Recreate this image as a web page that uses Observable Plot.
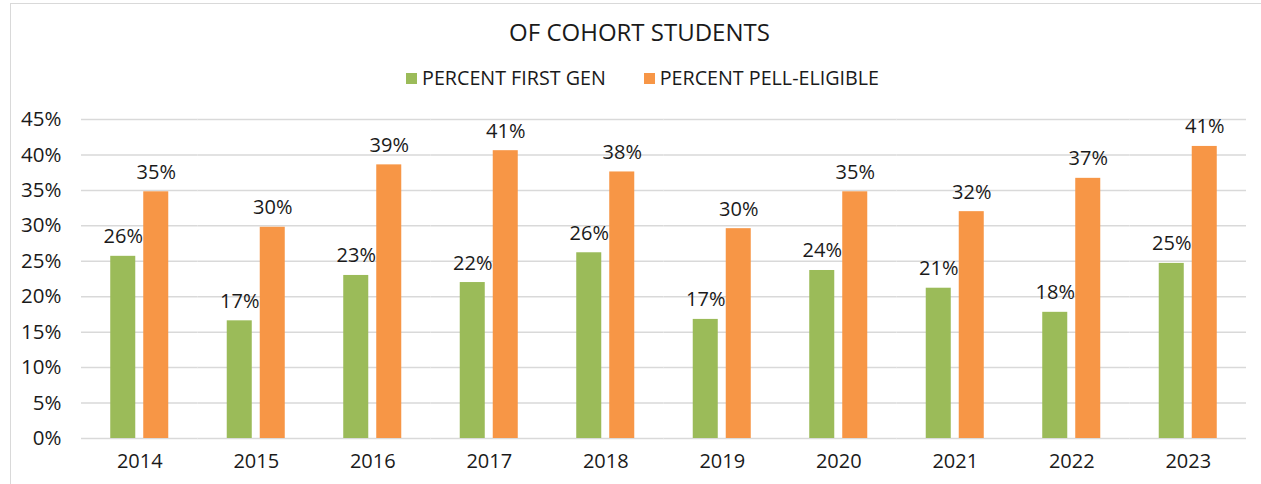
<!DOCTYPE html>
<html>
<head>
<meta charset="utf-8">
<script src="https://cdn.jsdelivr.net/npm/d3@7"></script>
<script src="https://cdn.jsdelivr.net/npm/@observablehq/plot@0.6"></script>
<style>
  html, body { margin: 0; padding: 0; background: #fff; }
  #wrap { position: relative; width: 1261px; height: 484px; overflow: hidden; font-family: "Open Sans", sans-serif; color: #1a1a1a; }
  #frame { position: absolute; left: 10px; top: 3px; width: 1300px; height: 600px; border-left: 1.5px solid #d9d9d9; border-top: 1.5px solid #d9d9d9; box-sizing: border-box; }
  #title { position: absolute; left: 9px; width: 1261px; top: 16px; text-align: center; font-size: 24px; line-height: 32px; }
  #legend { position: absolute; left: 12px; width: 1261px; top: 66px; display: flex; justify-content: center; gap: 38px; font-size: 19.7px; line-height: 24px; }
  .item { display: flex; align-items: center; gap: 5px; }
  .sw { width: 11px; height: 11px; display: inline-block; }
  #chart { position: absolute; left: 0; top: 100px; }
</style>
</head>
<body>
<div id="wrap">
  <div id="frame"></div>
  <div id="title"></div>
  <div id="legend"></div>
  <div id="chart"></div>
</div>
<script>
const title = "OF COHORT STUDENTS";
const years = ["2014","2015","2016","2017","2018","2019","2020","2021","2022","2023"];
const seriesNames = ["PERCENT FIRST GEN", "PERCENT PELL-ELIGIBLE"];
const firstGen = [25.7, 16.6, 23.0, 22.0, 26.2, 16.8, 23.7, 21.2, 17.8, 24.7];
const pellEligible = [34.8, 29.8, 38.6, 40.6, 37.6, 29.6, 34.8, 32.0, 36.7, 41.2];
const colors = ["#9BBB59", "#F79646"];
const yTicks = [0, 5, 10, 15, 20, 25, 30, 35, 40, 45];

const data = [];
years.forEach((y, i) => {
  data.push({year: y, series: seriesNames[0], value: firstGen[i]});
  data.push({year: y, series: seriesNames[1], value: pellEligible[i]});
});

document.getElementById("title").textContent = title;
const legend = document.getElementById("legend");
seriesNames.forEach((s, i) => {
  const it = document.createElement("div");
  it.className = "item";
  const sw = document.createElement("span");
  sw.className = "sw";
  sw.style.background = colors[i];
  const lab = document.createElement("span");
  lab.textContent = s;
  it.appendChild(sw); it.appendChild(lab);
  legend.appendChild(it);
});

const chart = Plot.plot({
  width: 1261,
  height: 384,
  marginTop: 19,
  marginBottom: 46,
  marginLeft: 81,
  marginRight: 15,
  style: {fontFamily: "Open Sans, sans-serif", fontSize: "20px", color: "#1a1a1a", background: "transparent", overflow: "visible"},
  fx: {domain: years, padding: 0, round: false, label: null},
  x: {domain: seriesNames, paddingInner: 0.242, paddingOuter: 0.886, round: false, axis: null},
  y: {domain: [0, 45], label: null},
  color: {domain: seriesNames, range: colors},
  marks: [
    Plot.ruleY(yTicks, {stroke: "#d9d9d9", strokeWidth: 1.5}),
    Plot.axisY({ticks: yTicks, tickFormat: d => d + "%", tickSize: 0, tickPadding: 20, fontSize: 20.5, label: null}),
    Plot.axisFx({anchor: "bottom", tickSize: 0, tickPadding: 15, fontSize: 20, label: null}),
    Plot.barY(data, {fx: "year", x: "series", y: "value", fill: "series"}),
    Plot.text(data, {fx: "year", x: "series", y: "value", text: d => Math.round(d.value) + "%", lineAnchor: "bottom", dy: -13, fill: "#1a1a1a", fontSize: 20})
  ]
});
document.getElementById("chart").appendChild(chart);
</script>
</body>
</html>
